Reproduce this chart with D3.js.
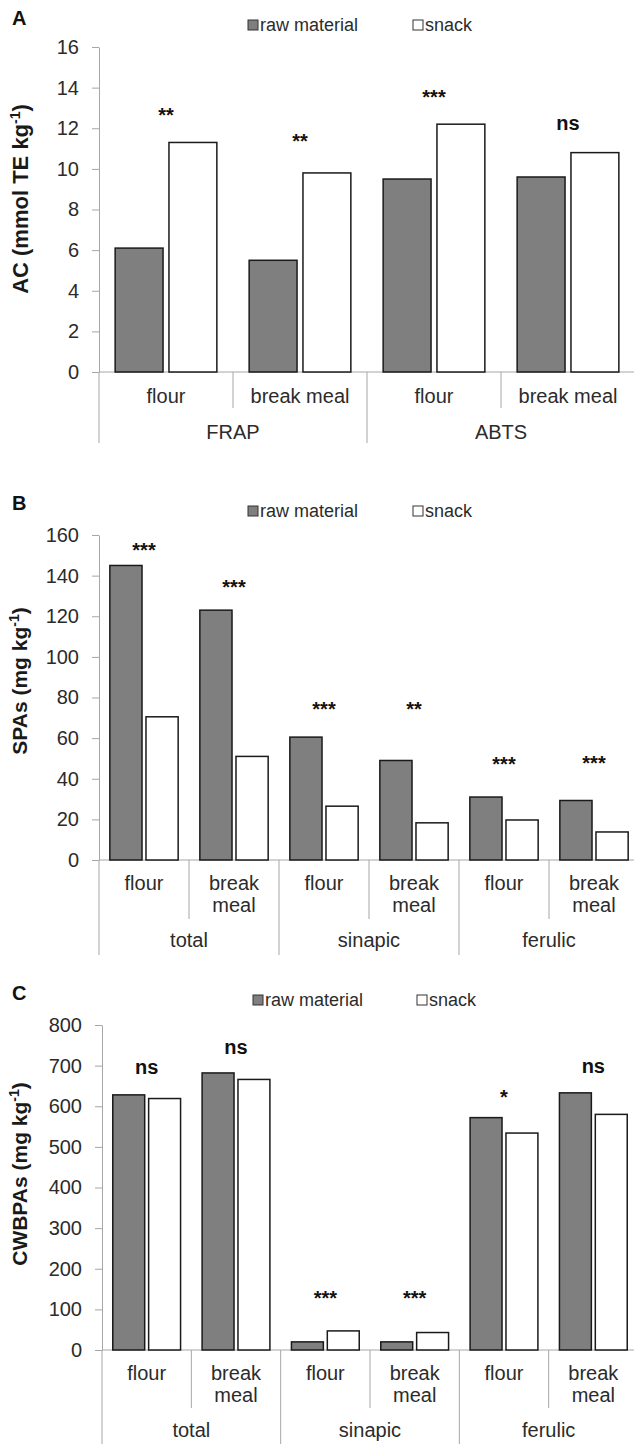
<!DOCTYPE html>
<html>
<head>
<meta charset="utf-8">
<script src="https://cdn.jsdelivr.net/npm/d3@7"></script>
<style>
  body { margin: 0; background: #fff; }
  svg { display: block; font-family: "Liberation Sans", Arial, sans-serif; }
</style>
</head>
<body>
<svg id="chart"></svg>
<script>
// ---- data ----
const series = ['raw material', 'snack'];
const subCats = ['flour', 'break meal'];

// A: antioxidant capacity
const groupsA = ['FRAP', 'ABTS'];
const acRaw = [6.1, 5.5, 9.5, 9.6];
const acSnack = [11.3, 9.8, 12.2, 10.8];
const acSig = ['**', '**', '***', 'ns'];
const acSigAt = [12.9, 11.6, 13.8, 12.2];

// B: soluble phenolic acids
const groupsB = ['total', 'sinapic', 'ferulic'];
const spaRaw = [145, 123, 60.5, 49, 31, 29.3];
const spaSnack = [70.5, 51, 26.5, 18.3, 19.7, 13.8];
const spaSig = ['***', '***', '***', '**', '***', '***'];
const spaSigAt = [155, 137, 77, 77, 49.6, 50];

// C: cell wall bound phenolic acids
const groupsC = ['total', 'sinapic', 'ferulic'];
const cwRaw = [628, 682, 20, 20, 572, 633];
const cwSnack = [619, 666, 47, 43, 534, 580];
const cwSig = ['ns', 'ns', '***', '***', '*', 'ns'];
const cwSigAt = [695, 744, 140, 140, 635, 697];

const W = 634, H = 1444;
const svg = d3.select('#chart').attr('width', W).attr('height', H);

const axisColor = '#a6a6a6';
const textColor = '#2b2b2b';
const rawFill = '#7f7f7f';

const panels = [
  { letter: 'A', letterY: 25, groups: groupsA, raw: acRaw, snack: acSnack, sig: acSig, sigAt: acSigAt,
    yMax: 16, yStep: 2, title: 'AC (mmol TE kg', titleY: 199, titleSize: 22,
    left: 99, right: 635, top: 47, base: 372, legendX: 248, snackX: 413, legendY: 25,
    wrap: false, shortSep: 36, longSep: 71, lab1: 24, groupLab: 60 },
  { letter: 'B', letterY: 510, groups: groupsB, raw: spaRaw, snack: spaSnack, sig: spaSig, sigAt: spaSigAt,
    yMax: 160, yStep: 20, title: 'SPAs (mg kg', titleY: 681, titleSize: 21,
    left: 99, right: 639, top: 535, base: 860, legendX: 248, snackX: 413, legendY: 511,
    wrap: true, shortSep: 59, longSep: 95, lab1: 23, groupLab: 80 },
  { letter: 'C', letterY: 1000, groups: groupsC, raw: cwRaw, snack: cwSnack, sig: cwSig, sigAt: cwSigAt,
    yMax: 800, yStep: 100, title: 'CWBPAs (mg kg', titleY: 1174, titleSize: 21,
    left: 102, right: 638, top: 1025, base: 1350, legendX: 253, snackX: 417, legendY: 1000,
    wrap: true, shortSep: 58, longSep: 94, lab1: 23, groupLab: 80 }
];

panels.forEach(drawPanel);

function drawPanel(p) {
  const g = svg.append('g');
  const cats = p.groups.flatMap(gr => subCats.map(s => gr + '|' + s));
  const rows = cats.map((c, i) => ({ cat: c, values: [p.raw[i], p.snack[i]] }));

  const x0 = d3.scaleBand().domain(cats).range([p.left, p.right]);
  const x1 = d3.scaleBand().domain(series).range([0, x0.bandwidth()])
    .paddingInner(0.11).paddingOuter(0.3);
  const y = d3.scaleLinear().domain([0, p.yMax]).range([p.base, p.top]);

  // y axis
  const yAxis = d3.axisLeft(y)
    .tickValues(d3.range(0, p.yMax + p.yStep / 2, p.yStep))
    .tickSize(7).tickSizeOuter(0).tickPadding(13);
  const ya = g.append('g').attr('transform', `translate(${p.left},0)`).call(yAxis);
  ya.select('.domain').attr('stroke', axisColor);
  ya.selectAll('.tick line').attr('stroke', axisColor);
  ya.selectAll('.tick text').attr('fill', textColor).attr('font-size', 20);

  // baseline and category separators
  g.append('line')
    .attr('x1', p.left).attr('x2', p.right)
    .attr('y1', p.base).attr('y2', p.base)
    .attr('stroke', axisColor);
  d3.range(cats.length + 1).forEach(i => {
    const x = p.left + i * x0.bandwidth();
    g.append('line')
      .attr('x1', x).attr('x2', x)
      .attr('y1', p.base).attr('y2', p.base + (i % 2 === 0 ? p.longSep : p.shortSep))
      .attr('stroke', axisColor);
  });

  // bars
  const cat = g.selectAll('.cat').data(rows).join('g')
    .attr('class', 'cat')
    .attr('transform', d => `translate(${x0(d.cat)},0)`);
  cat.selectAll('rect')
    .data(d => d.values.map((v, j) => ({ s: series[j], v })))
    .join('rect')
    .attr('x', d => x1(d.s))
    .attr('width', x1.bandwidth())
    .attr('y', d => y(d.v))
    .attr('height', d => p.base - y(d.v))
    .attr('fill', d => d.s === 'snack' ? '#fff' : rawFill)
    .attr('stroke', '#1a1a1a')
    .attr('stroke-width', 1.5);

  // significance marks
  g.selectAll('.sig').data(rows).join('text')
    .attr('class', 'sig')
    .attr('x', d => x0(d.cat) + x0.bandwidth() / 2)
    .attr('y', (d, i) => y(p.sigAt[i]))
    .attr('dy', (d, i) => p.sig[i].startsWith('*') ? '0.6em' : '0.3em')
    .attr('text-anchor', 'middle')
    .attr('font-weight', 'bold')
    .attr('font-size', 20)
    .attr('fill', '#111')
    .text((d, i) => p.sig[i]);

  // category labels
  rows.forEach(d => {
    const label = d.cat.split('|')[1];
    const t = g.append('text')
      .attr('x', x0(d.cat) + x0.bandwidth() / 2)
      .attr('y', p.base + p.lab1)
      .attr('dy', '0.35em')
      .attr('text-anchor', 'middle')
      .attr('font-size', 20)
      .attr('fill', textColor);
    if (p.wrap && label.includes(' ')) {
      label.split(' ').forEach((w, k) => {
        t.append('tspan').attr('x', x0(d.cat) + x0.bandwidth() / 2)
          .attr('dy', k === 0 ? '0.35em' : '1.1em').text(w);
      });
      t.attr('dy', null);
    } else {
      t.text(label);
    }
  });

  // group labels
  p.groups.forEach(gr => {
    const xs = x0(gr + '|' + subCats[0]);
    g.append('text')
      .attr('x', xs + x0.bandwidth())
      .attr('y', p.base + p.groupLab)
      .attr('dy', '0.35em')
      .attr('text-anchor', 'middle')
      .attr('font-size', 20)
      .attr('fill', textColor)
      .text(gr);
  });

  // y title
  const tt = g.append('text')
    .attr('transform', `translate(20,${p.titleY}) rotate(-90)`)
    .attr('text-anchor', 'middle')
    .attr('dy', '0.35em')
    .attr('font-weight', 'bold')
    .attr('font-size', p.titleSize)
    .attr('fill', '#1a1a1a');
  tt.append('tspan').text(p.title);
  tt.append('tspan').attr('font-size', 14).attr('dy', -8).text('-1');
  tt.append('tspan').attr('dy', 8).text(')');

  // panel letter
  g.append('text')
    .attr('x', 12).attr('y', p.letterY)
    .attr('font-weight', 'bold')
    .attr('font-size', 20)
    .attr('fill', '#111')
    .text(p.letter);

  // legend
  const leg = g.selectAll('.leg').data(series).join('g')
    .attr('class', 'leg')
    .attr('transform', (d, i) => `translate(${i === 0 ? p.legendX : p.snackX},${p.legendY})`);
  leg.append('rect')
    .attr('x', 0).attr('y', -5).attr('width', 10).attr('height', 10)
    .attr('fill', d => d === 'snack' ? '#fff' : rawFill)
    .attr('stroke', '#333').attr('stroke-width', 1);
  leg.append('text')
    .attr('x', 12).attr('y', 0).attr('dy', '0.35em')
    .attr('font-size', 18)
    .attr('fill', textColor)
    .text(d => d);
}
</script>
</body>
</html>
